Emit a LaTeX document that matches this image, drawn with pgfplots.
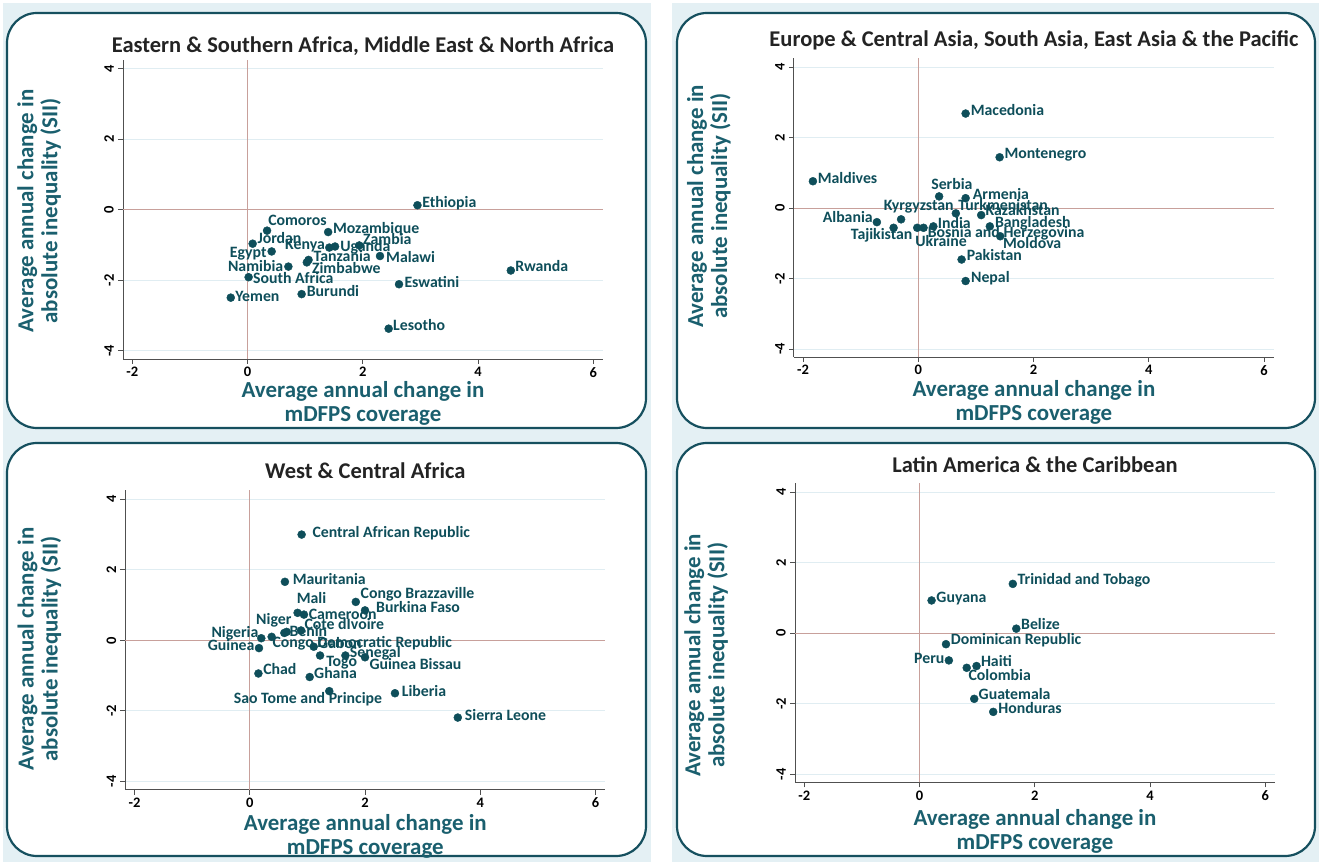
\documentclass[border=0pt]{standalone}
\usepackage{pgfplots}
\pgfplotsset{compat=1.18}
\usepackage{pgfplotstable}
\usepackage{fontspec}
\setmainfont{Carlito}

\definecolor{bgblue}{RGB}{228,240,244}
\definecolor{bordc}{RGB}{22,80,95}
\definecolor{dotc}{RGB}{14,78,90}
\definecolor{labc}{RGB}{26,95,110}
\definecolor{gridc}{RGB}{224,237,242}
\definecolor{refc}{RGB}{200,160,155}
\definecolor{axisgray}{RGB}{80,80,80}
\definecolor{titlec}{RGB}{35,35,35}

\newcommand\ptlabfont{\fontsize{15.8}{17}\selectfont\bfseries}
\newcommand\tickfont{\fontsize{14.5}{16}\selectfont\bfseries}
\newcommand\axlabfont{\fontsize{22.9}{24}\selectfont\bfseries}
\newcommand\titlefont{\fontsize{22.5}{24}\selectfont\bfseries}

% x, y, country, label side (180 = right of the dot, 0 = left), label offset (pt)
\pgfplotstableread[col sep=comma]{
x,y,name,ang,dx,dy
2.95,0.13,Ethiopia,180,4.7,1
0.34,-0.59,Comoros,180,1,8.4
1.40,-0.63,Mozambique,180,4.7,1.7
0.09,-0.96,Jordan,180,4.7,3.3
1.42,-1.07,Kenya,0,-4.3,1
1.52,-1.04,Uganda,180,5,-1.7
1.94,-1.01,Zambia,180,3.7,4
0.42,-1.18,Egypt,0,-5,-3.3
1.06,-1.42,Tanzania,180,5,1
1.03,-1.49,Zimbabwe,180,5,-8
2.30,-1.31,Malawi,180,6,-3.7
0.71,-1.61,Namibia,0,-5,-1.7
4.57,-1.72,Rwanda,180,4.3,1.3
0.02,-1.91,South Africa,180,4.3,-3.7
2.63,-2.11,Eswatini,180,5.3,0
-0.29,-2.49,Yemen,180,4.3,-0.7
0.94,-2.39,Burundi,180,5,0
2.45,-3.37,Lesotho,180,4.3,1.3
}\esamena

\pgfplotstableread[col sep=comma]{
x,y,name,ang,dx,dy
0.82,2.68,Macedonia,180,5,1.3
1.41,1.44,Montenegro,180,4.7,1.3
-1.83,0.76,Maldives,180,4.7,1
0.36,0.33,Serbia,180,-8,9.3
0.82,0.28,Armenia,180,7,1.7
0.65,-0.15,Turkmenistan,180,2.3,5.7
1.09,-0.20,Kazakhstan,180,4.3,2
-0.30,-0.32,Kyrgyzstan,180,-17.3,11.7
-0.72,-0.40,Albania,0,-4,2.3
-0.43,-0.56,Tajikistan,0,19,-9.3
-0.02,-0.56,Ukraine,180,-2,-16
0.09,-0.56,Bosnia and Herzegovina,180,4,-7
0.26,-0.52,India,180,4.3,1
1.24,-0.52,Bangladesh,180,5,1.7
1.42,-0.80,Moldova,180,2.7,-9.7
0.75,-1.46,Pakistan,180,5,1.7
0.82,-2.07,Nepal,180,5.3,1.3
}\ecasap

\pgfplotstableread[col sep=comma]{
x,y,name,ang,dx,dy
0.90,3.00,Central African Republic,180,10.7,0
0.61,1.66,Mauritania,180,7.7,0
1.84,1.09,Congo Brazzaville,180,4.7,6.7
2.00,0.85,Burkina Faso,180,11,0.7
0.83,0.78,Mali,180,-1,11.7
0.94,0.73,Cameroon,180,4.7,-1.7
0.89,0.28,Cote dIvoire,180,3.3,3.7
0.60,0.21,Niger,180,-28.3,11.6
0.64,0.24,Benin,180,2.7,-1.7
0.20,0.06,Nigeria,0,-2.7,3.7
0.38,0.10,Congo Democratic Republic,180,0.7,-7.7
0.16,-0.22,Guinea,0,-4.3,0.7
1.11,-0.18,Gabon,180,4.3,1
1.66,-0.43,Senegal,180,4.3,1
1.22,-0.43,Togo,180,6,-8.3
2.00,-0.48,Guinea Bissau,180,4.3,-9
0.15,-0.94,Chad,180,4.7,2
1.04,-1.04,Ghana,180,4.3,1.7
1.38,-1.44,Sao Tome and Principe,0,53,-10
2.52,-1.50,Liberia,180,6.7,0
3.61,-2.19,Sierra Leone,180,7,0
}\wca

\pgfplotstableread[col sep=comma]{
x,y,name,ang,dx,dy
1.62,1.40,Trinidad and Tobago,180,4.7,1.7
0.21,0.93,Guyana,180,4.7,1
1.68,0.13,Belize,180,4.7,1.7
0.46,-0.31,Dominican Republic,180,4.7,2
0.51,-0.77,Peru,0,-4.3,-0.7
0.82,-0.98,Colombia,180,1.7,-10
0.99,-0.93,Haiti,180,4.3,2
0.95,-1.86,Guatemala,180,4.3,1.7
1.28,-2.23,Honduras,180,5,1.3
}\lac

\pgfplotsset{
  % #1 title lift, #2 x-label drop, #3 y-label offset, #4 y-label height
  panel/.style n args={4}{
    scale only axis, width=480pt, height=299pt,
    xmin=-2.16, xmax=6.17, ymin=-4.23, ymax=4.25,
    xtick={-2,0,2,4,6}, xticklabels={-2,0,2,4,6},
    ytick={-4,-2,0,2,4}, yticklabels={-4,-2,0,2,4},
    axis lines=left,
    axis line style={-, draw=axisgray, line width=0.9pt},
    tick style={draw=axisgray, line width=0.9pt},
    tick align=outside, major tick length=5pt,
    ymajorgrids, major grid style={draw=gridc, line width=0.9pt},
    xticklabel style={font=\tickfont, text=black, inner sep=0pt, anchor=north, yshift=-3pt},
    yticklabel style={font=\tickfont, text=black, inner sep=0pt, xshift=-4pt, rotate=90, anchor=south},
    title style={font=\titlefont, text=titlec, at={(axis description cs:0.5,1)}, anchor=base, yshift=#1},
    xlabel={Average annual change in\\mDFPS coverage},
    ylabel={Average annual change in\\absolute inequality (SII)},
    xlabel style={font=\axlabfont, text=labc, align=center, inner sep=0pt,
      at={(axis description cs:0.5,#2)}, anchor=north},
    ylabel style={font=\axlabfont, text=labc, align=center, inner sep=0pt,
      at={(axis description cs:#3,#4)}, anchor=south},
    clip=false,
  },
  countries/.style={
    only marks, mark=*, mark size=4pt, color=dotc,
    point meta=explicit symbolic,
    visualization depends on={\thisrow{ang}\as\lbang},
    visualization depends on={\thisrow{dx}\as\lbdx},
    visualization depends on={\thisrow{dy}\as\lbdy},
    nodes near coords,
    nodes near coords style={font=\ptlabfont, text=dotc, inner sep=0pt,
      text height=0.62em, text depth=0.06em,
      anchor=\lbang, xshift=\lbdx pt, yshift=\lbdy pt},
  },
}

\newcommand\reflines{%
  \draw[refc, line width=1pt] (axis cs:0,-4.23) -- (axis cs:0,4.25);
  \draw[refc, line width=1pt] (axis cs:-2.16,0) -- (axis cs:6.17,0);
}

\begin{document}
\begin{tikzpicture}[x=1pt,y=1pt]
\path[use as bounding box] (0,0) rectangle (1322,862);
\fill[white] (0,0) rectangle (1322,862);
\fill[bgblue] (3,0) rectangle (651,859);
\fill[bgblue] (672,0) rectangle (1319,859);
\begin{scope}[draw=bordc, line width=2.2pt, fill=white, rounded corners=30pt]
  \filldraw (7,434) rectangle (646,849);
  \filldraw (677,434) rectangle (1315,849);
  \filldraw (7,6) rectangle (646,419);
  \filldraw (677,6) rectangle (1315,419);
\end{scope}

\begin{axis}[panel={1pt}{-0.076}{-0.129}{0.495}, at={(123pt,503pt)}, anchor=south west,
  title={Eastern \& Southern Africa, Middle East \& North Africa}]
  \reflines
  \addplot[countries] table[x=x, y=y, meta=name] {\esamena};
\end{axis}

\begin{axis}[panel={6pt}{-0.078}{-0.131}{0.505}, at={(793.9pt,504.8pt)}, anchor=south west,
  title={Europe \& Central Asia, South Asia, East Asia \& the Pacific}]
  \reflines
  \addplot[countries] table[x=x, y=y, meta=name] {\ecasap};
\end{axis}

\begin{axis}[panel={6pt}{-0.083}{-0.133}{0.47}, at={(125.3pt,72.5pt)}, anchor=south west,
  title={West \& Central Africa}]
  \reflines
  \addplot[countries] table[x=x, y=y, meta=name] {\wca};
\end{axis}

\begin{axis}[panel={5pt}{-0.090}{-0.139}{0.425}, at={(795pt,79.6pt)}, anchor=south west,
  title={Latin America \& the Caribbean}]
  \reflines
  \addplot[countries] table[x=x, y=y, meta=name] {\lac};
\end{axis}
\end{tikzpicture}
\end{document}
